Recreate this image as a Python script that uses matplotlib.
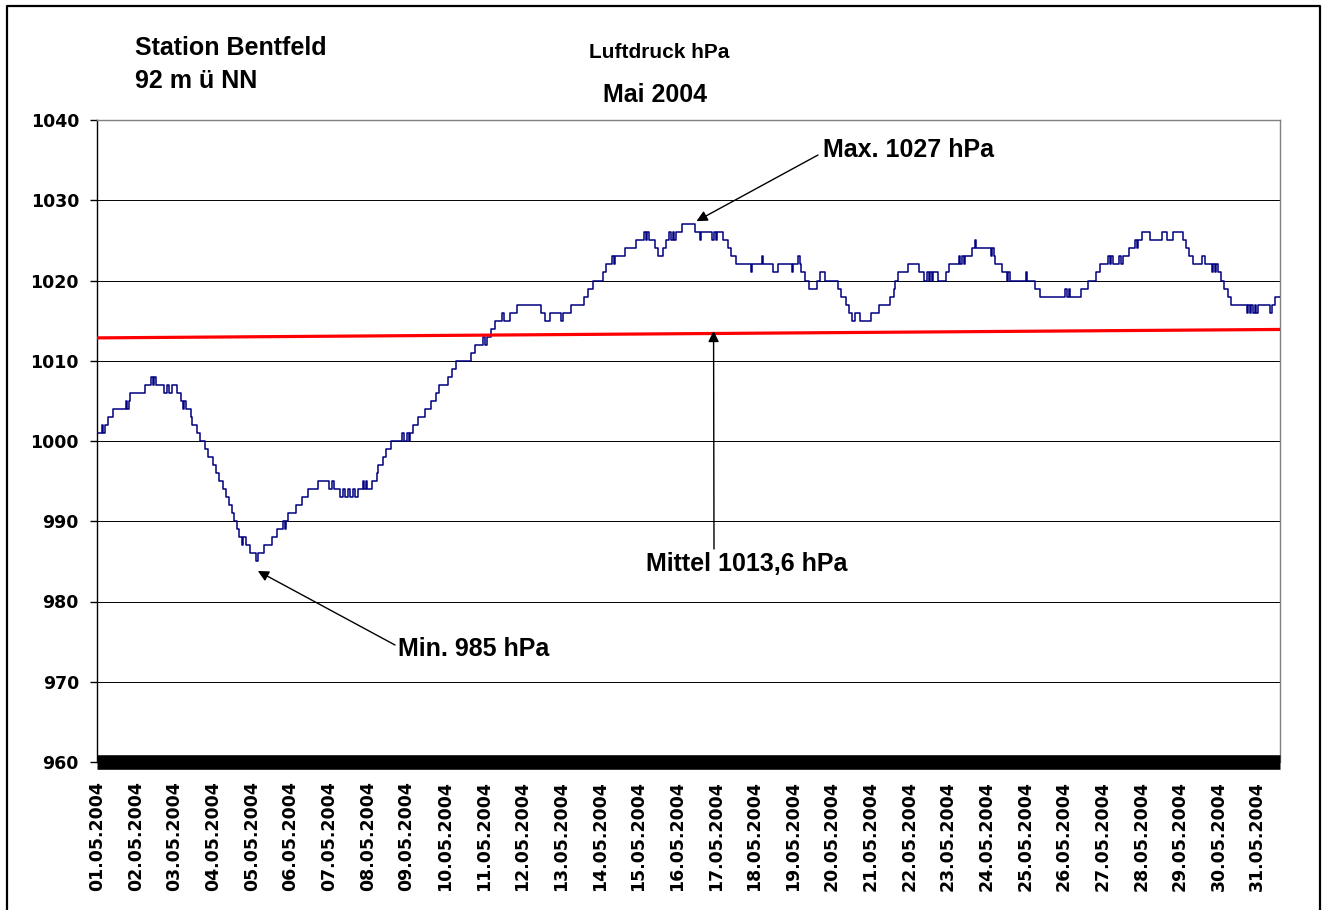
import numpy as np
import matplotlib
matplotlib.use('Agg')
import matplotlib.pyplot as plt
from matplotlib.lines import Line2D

plt.rcParams['font.family'] = ['Liberation Sans', 'DejaVu Sans']

# Messwerte: Nummer der Messung, ab der ein neuer Luftdruck gilt (hPa)
messung_nr = [0, 3, 4, 5, 7, 10, 18, 19, 20, 21, 30, 34, 35, 36, 37, 42, 44, 45, 47, 50,
              53, 54, 55, 56, 59, 60, 63, 65, 68, 70, 73, 75, 77, 79, 81, 83, 85, 86, 88, 89,
              91, 92, 94, 96, 100, 101, 105, 110, 113, 117, 118, 119, 120, 125, 129, 133, 139, 146, 148, 149,
              153, 155, 156, 158, 159, 161, 162, 164, 167, 168, 169, 170, 173, 176, 177, 180, 182, 185, 192, 193,
              195, 196, 197, 199, 202, 206, 210, 213, 215, 221, 223, 226, 235, 238, 243, 244, 245, 248, 250, 255,
              256, 260, 264, 279, 282, 285, 292, 293, 298, 306, 309, 312, 318, 320, 324, 325, 326, 332, 339, 344,
              345, 346, 347, 351, 353, 356, 358, 360, 361, 362, 363, 364, 368, 376, 379, 380, 387, 388, 389, 390,
              394, 397, 399, 402, 411, 412, 418, 419, 425, 428, 437, 438, 441, 442, 443, 445, 448, 453, 455, 458,
              466, 468, 471, 473, 475, 477, 480, 487, 492, 499, 501, 502, 504, 510, 517, 520, 522, 523, 524, 525,
              526, 529, 534, 536, 542, 543, 544, 545, 546, 550, 552, 553, 562, 563, 564, 565, 569, 572, 573, 574,
              584, 585, 590, 593, 609, 610, 611, 612, 619, 623, 628, 631, 636, 637, 638, 639, 643, 644, 645, 649,
              653, 654, 655, 657, 662, 670, 673, 677, 683, 685, 687, 689, 695, 697, 701, 702, 703, 704, 705, 707,
              709, 711, 713, 723, 724, 725, 726, 727, 728, 729, 730, 738, 739, 741]
druck_hpa = [1001, 1002, 1001, 1002, 1003, 1004, 1005, 1004, 1005, 1006, 1007, 1008, 1007, 1008, 1007, 1006, 1007, 1006, 1007, 1006,
             1005, 1004, 1005, 1004, 1003, 1002, 1001, 1000, 999, 998, 997, 996, 995, 994, 993, 992, 991, 990, 989, 988,
             987, 988, 987, 986, 985, 986, 987, 988, 989, 990, 989, 990, 991, 992, 993, 994, 995, 994, 995, 994,
             993, 994, 993, 994, 993, 994, 993, 994, 995, 994, 995, 994, 995, 996, 997, 998, 999, 1000, 1001, 1000,
             1001, 1000, 1001, 1002, 1003, 1004, 1005, 1006, 1007, 1008, 1009, 1010, 1011, 1012, 1013, 1012, 1013, 1014, 1015, 1016,
             1015, 1016, 1017, 1016, 1015, 1016, 1015, 1016, 1017, 1018, 1019, 1020, 1021, 1022, 1023, 1022, 1023, 1024, 1025, 1026,
             1025, 1026, 1025, 1024, 1023, 1024, 1025, 1026, 1025, 1026, 1025, 1026, 1027, 1026, 1025, 1026, 1025, 1026, 1025, 1026,
             1025, 1024, 1023, 1022, 1021, 1022, 1023, 1022, 1021, 1022, 1021, 1022, 1023, 1022, 1021, 1020, 1019, 1020, 1021, 1020,
             1019, 1018, 1017, 1016, 1015, 1016, 1015, 1016, 1017, 1018, 1019, 1020, 1021, 1022, 1021, 1020, 1021, 1020, 1021, 1020,
             1021, 1020, 1021, 1022, 1023, 1022, 1023, 1022, 1023, 1024, 1025, 1024, 1023, 1024, 1023, 1022, 1021, 1020, 1021, 1020,
             1021, 1020, 1019, 1018, 1019, 1018, 1019, 1018, 1019, 1020, 1021, 1022, 1023, 1022, 1023, 1022, 1023, 1022, 1023, 1024,
             1025, 1024, 1025, 1026, 1025, 1026, 1025, 1026, 1025, 1024, 1023, 1022, 1023, 1022, 1021, 1022, 1021, 1022, 1021, 1020,
             1019, 1018, 1017, 1016, 1017, 1016, 1017, 1016, 1017, 1016, 1017, 1016, 1017, 1018]
anzahl_messungen = 744
messintervall_h = 59.2 / 60

# lineare Trendlinie des Mittels
trend_hpa = [1012.85, 1013.9]

tage = ['%02d.05.2004' % d for d in range(1, 32)]

t = np.array(messung_nr + [anzahl_messungen]) * messintervall_h
p = np.array(druck_hpa + [druck_hpa[-1]])
t_end = anzahl_messungen * messintervall_h

fig = plt.figure(figsize=(13.28, 9.10), dpi=100)
ax = fig.add_axes([97 / 1328, 1 - 762 / 910, 1183 / 1328, 642 / 910])

ax.plot(t, p, drawstyle='steps-post', color='#000080', lw=1.1, zorder=3)
ax.plot([0, t_end], trend_hpa, color='#ff0000', lw=2.3, zorder=4, solid_capstyle='butt')

ax.set_xlim(0, t_end)
ax.set_ylim(960, 1040)
ax.set_yticks(np.arange(960, 1041, 10))
ax.set_xticks(np.arange(31) * 24)
ax.set_xticklabels(tage, rotation=90)
for lab in ax.get_xticklabels() + ax.get_yticklabels():
    lab.set_fontfamily('DejaVu Sans')
    lab.set_fontweight('bold')
    lab.set_fontsize(12.5)
ax.tick_params(axis='x', length=0, pad=14)
ax.tick_params(axis='y', length=5, width=1, pad=8, direction='out')

for y in range(970, 1040, 10):
    ax.axhline(y, color='black', lw=0.7, zorder=1)
ax.axhline(960, color='black', lw=10.5, zorder=5, clip_on=False, solid_capstyle='butt')

ax.spines['left'].set_color('black')
ax.spines['left'].set_linewidth(1)
for s in ['top', 'right']:
    ax.spines[s].set_color('#808080')
    ax.spines[s].set_linewidth(1)
ax.spines['bottom'].set_visible(False)

# Texte
def ftext(x, y, s, size):
    fig.text(x / 1328, 1 - y / 910, s, fontsize=size, fontweight='bold', va='baseline', ha='left')

ftext(135, 55, 'Station Bentfeld', 18)
ftext(135, 88.5, '92 m ü NN', 18)
ftext(589, 58, 'Luftdruck hPa', 15)
ftext(603, 102, 'Mai 2004', 18)

arrow = dict(arrowstyle='-|>', color='black', lw=1, mutation_scale=16, shrinkA=0, shrinkB=0)
ax.annotate('', xy=(372, 1027.4), xycoords='data', xytext=(818, 910 - 155),
            textcoords='figure pixels', arrowprops=arrow, zorder=6)
ax.annotate('', xy=(99.8, 983.8), xycoords='data', xytext=(395, 910 - 645),
            textcoords='figure pixels', arrowprops=arrow, zorder=6)
ax.annotate('', xy=(382.6, 1013.7), xycoords='data', xytext=(714, 910 - 549),
            textcoords='figure pixels', arrowprops=arrow, zorder=6)
ftext(823, 157, 'Max. 1027 hPa', 18)
ftext(646, 571, 'Mittel 1013,6 hPa', 18)
ftext(398, 656, 'Min. 985 hPa', 18)

# Rahmen
x0, x1, y0 = 7 / 1328, 1320 / 1328, 1 - 6 / 910
fig.add_artist(Line2D([x0, x0, x1, x1], [0, y0, y0, 0], transform=fig.transFigure,
                      color='black', lw=1.6))

fig.savefig('out.png', dpi=100)
